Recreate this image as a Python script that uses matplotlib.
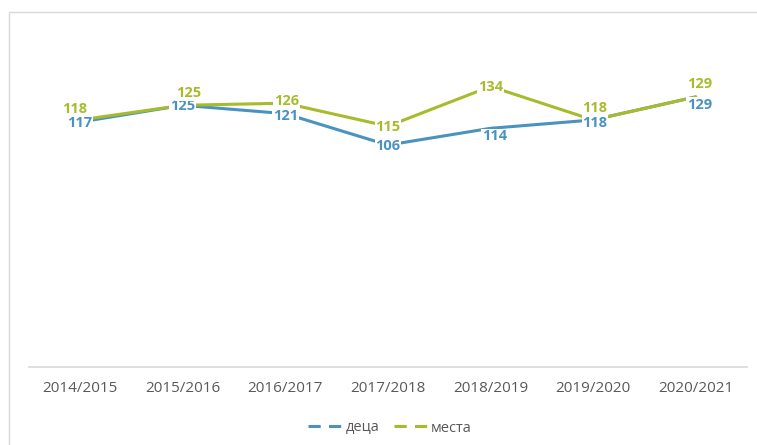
import matplotlib.pyplot as plt
from matplotlib.lines import Line2D
from matplotlib.patches import Rectangle

years = ['2014/2015', '2015/2016', '2016/2017', '2017/2018',
         '2018/2019', '2019/2020', '2020/2021']
deca = [117, 125, 121, 106, 114, 118, 129]
mesta = [118, 125, 126, 115, 134, 118, 129]

blue = '#4a92c0'
green = '#a8bb2c'
grey = '#595959'

# label nudges in pixels (dx, dy)
deca_off = [(0, -1), (0, -1), (0, -2), (0, -1), (4, -8), (2, -3), (4, -8)]
mesta_off = [(-5, 11), (6, 12), (1, 2), (0, -1), (0, -1), (2, 12), (4, 13)]

plt.rcParams['font.family'] = ['Open Sans', 'DejaVu Sans']

W, H = 757, 445
fig = plt.figure(figsize=(W / 100, H / 100), dpi=100)
ax = fig.add_axes([28.7 / W, 1 - 367 / H, (747 - 28.7) / W, (367 - 32) / H])

x = list(range(len(years)))
ax.plot(x, deca, color=blue, lw=2.2, solid_capstyle='round', zorder=2)
ax.plot(x, mesta, color=green, lw=2.2, solid_capstyle='round', zorder=3)

for vals, offs, c, z in [(deca, deca_off, blue, 5), (mesta, mesta_off, green, 6)]:
    for xi, v, (dx, dy) in zip(x, vals, offs):
        ax.annotate(str(v), (xi, v), xytext=(dx, dy), textcoords='offset pixels',
                    ha='center', va='center', color=c, fontsize=10.5,
                    fontweight='bold', zorder=z,
                    bbox=dict(boxstyle='square,pad=0.05', fc='white', ec='none'))

ax.set_xlim(-0.5, 6.5)
ax.set_ylim(0, 160)
ax.set_xticks(x)
ax.set_xticklabels(years, color=grey, fontsize=11)
ax.tick_params(axis='x', length=0, pad=10)
ax.set_yticks([])
for s in ['top', 'right', 'left']:
    ax.spines[s].set_visible(False)
ax.spines['bottom'].set_color('#d9d9d9')
ax.spines['bottom'].set_linewidth(1.2)

handles = [Line2D([], [], color=blue, lw=2.2, linestyle=(0, (4, 2.7))),
           Line2D([], [], color=green, lw=2.2, linestyle=(0, (4, 2.7)))]
fig.legend(handles, ['деца', 'места'], loc='center', ncol=2,
           bbox_to_anchor=(390 / W, 1 - 428 / H), frameon=False,
           fontsize=10.5, labelcolor=grey, handlelength=2.4,
           handletextpad=0.15, columnspacing=1.0)

fig.patches.append(Rectangle((9 / W, -0.1), 2, 1 - 12 / H + 0.1,
                             transform=fig.transFigure, fill=False,
                             ec='#d9d9d9', lw=1.0))

fig.savefig('out.png', dpi=100)
